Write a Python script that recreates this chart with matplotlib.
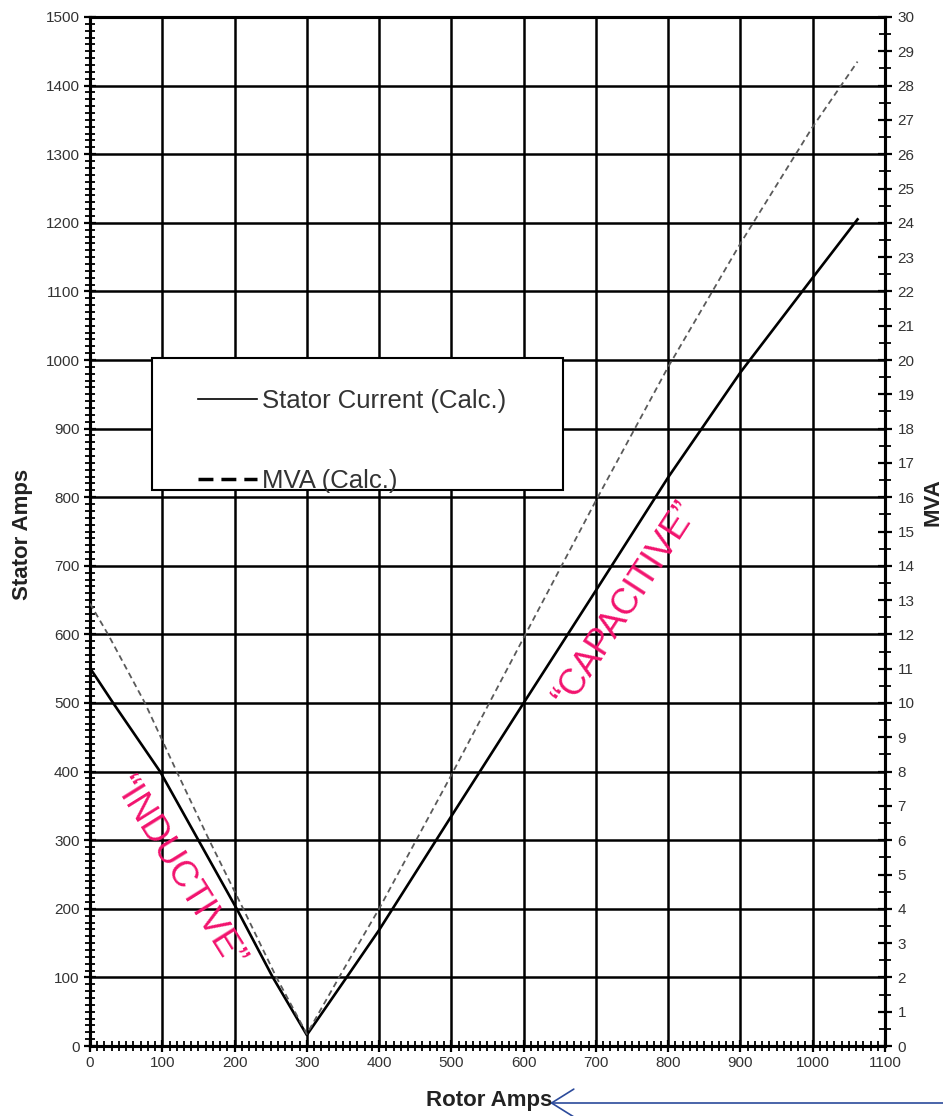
import matplotlib
matplotlib.use("Agg")
import matplotlib.pyplot as plt
from matplotlib.lines import Line2D
from matplotlib.patches import Rectangle, FancyArrowPatch
from matplotlib.ticker import MultipleLocator

plt.rcParams['font.family'] = ['Liberation Sans', 'DejaVu Sans']

# ---------------- data ----------------
rotor_amps_stator = [0, 32, 97, 150, 203, 253, 300, 355, 400, 500, 600, 700,
                     800, 900, 1000, 1062]
stator_amps = [551, 500, 400, 300, 200, 100, 16, 100, 169, 335, 500, 664,
               829, 982, 1120, 1205]

rotor_amps_mva = [0, 25, 76, 120, 165, 212, 258, 300, 350, 400, 500, 600, 700,
                  800, 900, 1000, 1062]
mva = [12.9, 12.0, 10.0, 8.0, 6.0, 4.0, 2.0, 0.35, 2.2, 4.0, 7.9, 11.9, 15.9,
       19.8, 23.4, 26.8, 28.7]

x_ticks = list(range(0, 1101, 100))
left_ticks = list(range(0, 1501, 100))
right_ticks = list(range(0, 31, 1))

series_labels = ["Stator Current (Calc.)", "MVA (Calc.)"]
region_labels = ["\u201cINDUCTIVE\u201d", "\u201cCAPACITIVE\u201d"]
region_pos = [(122, 252), (742, 644)]
region_rot = [-58, 57]

pink = '#F2136E'
tick_col = '#333333'

# ---------------- figure ----------------
W, H = 943, 1116
fig = plt.figure(figsize=(W / 100, H / 100), dpi=100)
ax = fig.add_axes([90 / W, 1 - 1046 / H, 795 / W, 1029 / H])
ax2 = ax.twinx()

ax.set_xlim(0, 1100)
ax.set_ylim(0, 1500)
ax.set_xticks(x_ticks)
ax.set_yticks(left_ticks)
ax.xaxis.set_minor_locator(MultipleLocator(10))
ax.yaxis.set_minor_locator(MultipleLocator(10))
ax.grid(True, which='major', color='black', lw=1.8)
ax.set_axisbelow(True)

ax.plot(rotor_amps_stator, stator_amps, color='black', lw=1.9, zorder=3)

ax2.set_ylim(0, 30)
ax2.set_yticks(right_ticks)
ax2.yaxis.set_minor_locator(MultipleLocator(0.5))
ax2.plot(rotor_amps_mva, mva, color='#5a5a5a', lw=1.3,
         linestyle=(0, (3.3, 2.2)), zorder=3)

for a in (ax, ax2):
    for s in a.spines.values():
        s.set_linewidth(2.2)
        s.set_color('black')

ax.tick_params(axis='both', which='major', direction='inout', length=9, width=1.6,
               labelsize=11, labelcolor=tick_col, pad=3)
ax.tick_params(axis='both', which='minor', direction='inout', length=7, width=1.3)
ax2.tick_params(axis='y', which='major', direction='inout', length=10, width=1.6,
                labelsize=11, labelcolor=tick_col, pad=4)
ax2.tick_params(axis='y', which='minor', direction='inout', length=8, width=1.3)

# axis labels
ax.set_ylabel('Stator Amps', fontsize=16, fontweight='bold', color='#222222', va='center')
ax.yaxis.set_label_coords(-0.0855, 0.497)
ax.set_xlabel('Rotor Amps', fontsize=16, fontweight='bold', color='#222222', va='center')
ax.xaxis.set_label_coords(0.502, -0.0534)
ax2.set_ylabel('MVA', fontsize=16, fontweight='bold', color='#222222', va='center',
               rotation=90)
ax2.yaxis.set_label_coords(1.0604, 0.529)

# legend box
rect = Rectangle((0.078, 0.5403), 0.517, 0.1283, transform=ax2.transAxes,
                 facecolor='white', edgecolor='black', lw=1.5, zorder=5)
ax2.add_patch(rect)
handles = [Line2D([], [], color='black', lw=1.2),
           Line2D([], [], color='black', lw=2.5, linestyle=(0, (4.3, 2.3)))]
leg = ax2.legend(handles, series_labels, loc='center left',
                 bbox_to_anchor=(0.136, 0.588), frameon=False, borderpad=0,
                 borderaxespad=0, handlelength=2.3, handletextpad=0.2,
                 labelspacing=2.2, prop={'size': 18.5}, labelcolor='#333333')
leg.set_zorder(6)

# region annotations
for lab, (px, py), rot in zip(region_labels, region_pos, region_rot):
    ax.text(px, py, lab, color=pink, fontsize=26, rotation=rot,
            rotation_mode='anchor', ha='center', va='center', zorder=4)

# arrow pointing at x-axis label
fig.add_artist(FancyArrowPatch(
    posA=(1.0, 1 - 1103 / H), posB=(550 / W, 1 - 1103 / H),
    transform=fig.transFigure, arrowstyle='->,head_length=16,head_width=10',
    color='#2B4A9B', lw=1.2, shrinkA=0, shrinkB=0))

fig.savefig('out.png', dpi=100)
